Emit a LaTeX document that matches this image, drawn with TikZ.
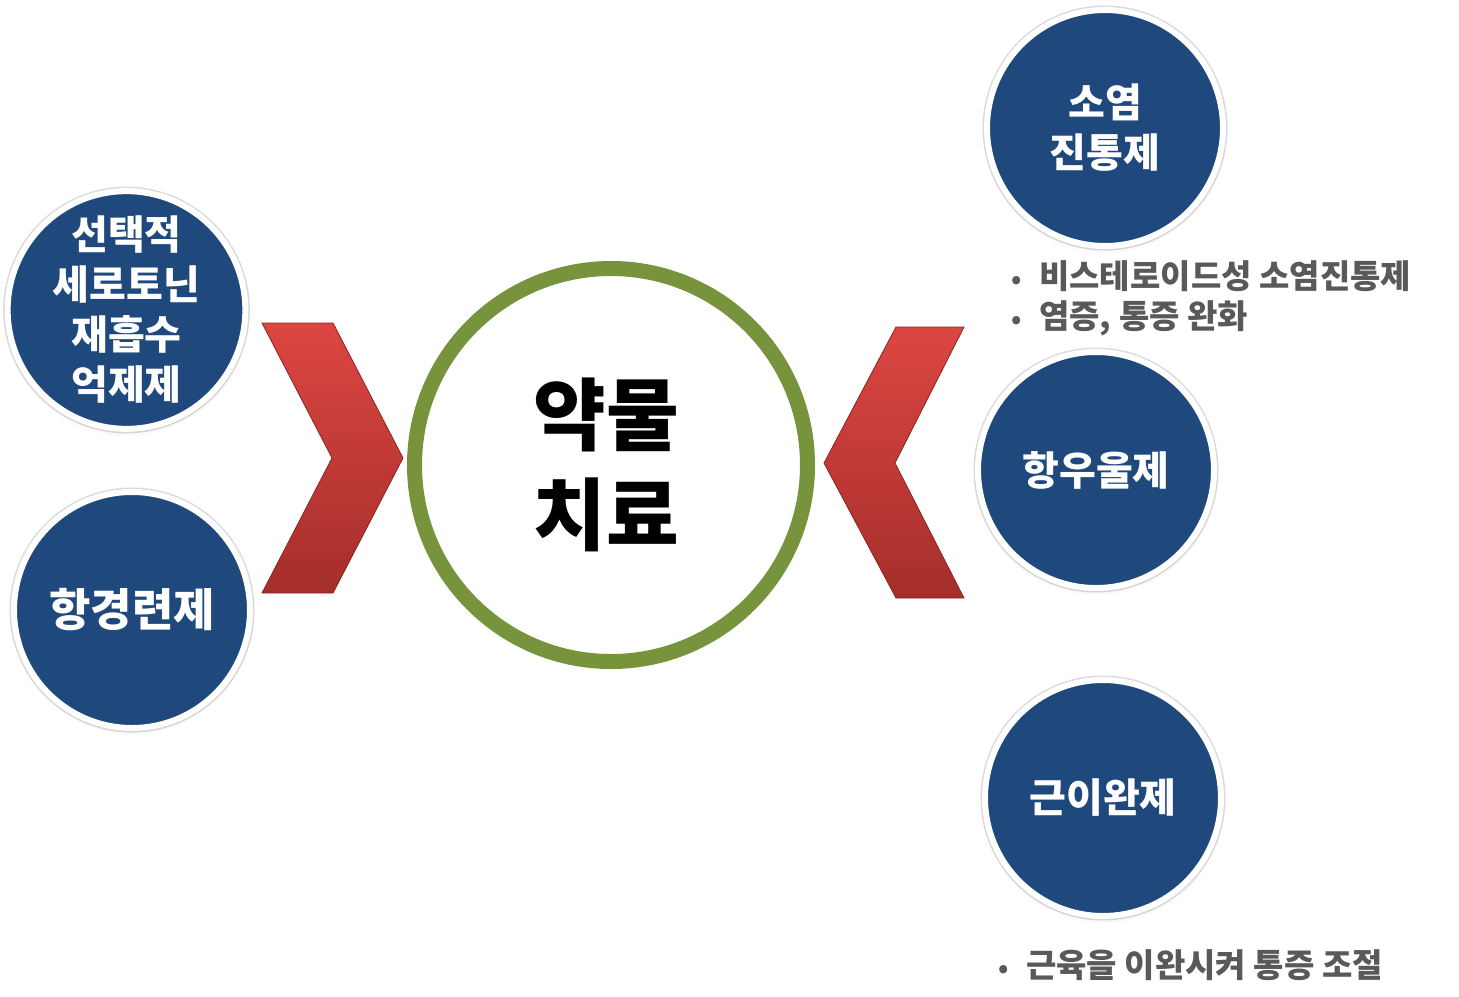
\documentclass[tikz,border=0pt]{standalone}
\usepackage{fontspec}
\newfontfamily\kr{Noto Sans CJK KR}
\usetikzlibrary{shadows}
\definecolor{navy}{HTML}{1F497D}
\definecolor{olivering}{HTML}{77933C}
\definecolor{chevtop}{HTML}{DC4642}
\definecolor{chevbot}{HTML}{A52E2B}
\definecolor{chevedge}{HTML}{8A2422}
\definecolor{notegray}{HTML}{595959}
\newcommand{\notebullet}{\makebox[28pt][l]{\fontsize{26}{26}\selectfont•}}
\begin{document}
\begin{tikzpicture}[x=1pt,y=-1pt,
  drug/.style={circle, minimum size=236pt, inner sep=0pt, fill=navy, draw=white, line width=6pt,
    preaction={draw=black!14, line width=9pt},
    circular drop shadow={shadow scale=1.04, shadow xshift=0pt, shadow yshift=-3pt, opacity=0.25},
    text=white, align=center, font=\kr\bfseries\fontsize{40}{50}\selectfont},
  core/.style={circle, minimum size=393pt, inner sep=0pt, fill=white, draw=olivering, line width=15pt,
    circular drop shadow={shadow scale=1.02, shadow xshift=0pt, shadow yshift=-5pt, opacity=0.18},
    text=black, align=center, font=\kr\bfseries\fontsize{79}{100}\selectfont},
  note/.style={anchor=west, inner sep=0pt, text=notegray, align=left, font=\kr\bfseries\fontsize{33}{40}\selectfont},
  chevron/.style={top color=chevtop, bottom color=chevbot, draw=chevedge, line width=0.8pt, line join=miter}
]
\useasboundingbox (0,0) rectangle (1459,996);

% chevrons
\path[chevron] (262,323) -- (333,323) -- (403,458) -- (333,593) -- (262,593) -- (332,458) -- cycle;
\path[chevron] (964,327) -- (896,327) -- (824,463) -- (896,598) -- (964,598) -- (895,463) -- cycle;

% center
\node[core] (core) at (611,465) {약물\hspace*{10pt}\\치료\hspace*{10pt}};

% drug class circles
\node[drug] (ssri) at (126.5,310) {선택적\\세로토닌\\재흡수\\억제제};
\node[drug, font=\kr\bfseries\fontsize{45}{50}\selectfont] (anticonv) at (132,610) {항경련제};
\node[drug] (nsaid) at (1105,128) {소염\\진통제};
\node[drug] (antidep) at (1096,470) {항우울제};
\node[drug] (relax) at (1103,798) {근이완제};

% notes
\node[note] (nsaidnote) at (1011,298) {\notebullet 비스테로이드성 소염진통제\\\notebullet 염증, 통증 완화};
\node[note] (relaxnote) at (998,965) {\notebullet 근육을 이완시켜 통증 조절};
\end{tikzpicture}
\end{document}
